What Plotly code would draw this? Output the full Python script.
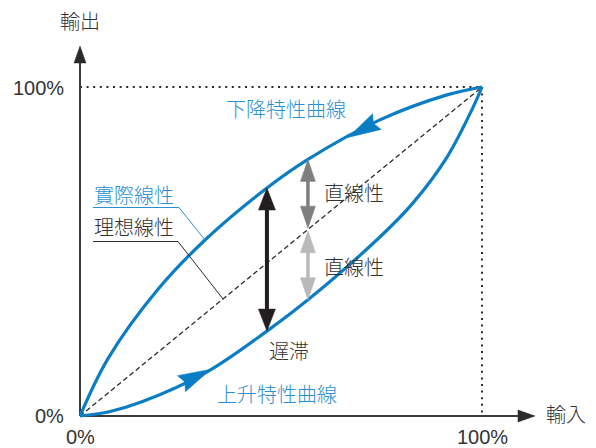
import numpy as np
import plotly.graph_objects as go

# ---------------- data (percent) ----------------
down_x = [0, 7.0, 19.4, 31.1, 46.5, 56.7, 74.6, 91.3, 100]
down_y = [0, 17.5, 38.5, 53.5, 69.3, 78.0, 90.0, 97.6, 100]
up_x = [0, 7.0, 15.4, 31.6, 46.5, 56.7, 74.6, 82.8, 91.3, 97.8, 100]
up_y = [0, 1.2, 4.3, 13.4, 25.8, 35.3, 54.4, 64.7, 78.7, 93.9, 100]
ideal_x = [0, 100]
ideal_y = [0, 100]
x_tick_labels = ["0%", "100%"]
y_tick_labels = ["0%", "100%"]
hyst_x = 46.5      # where hysteresis arrow is drawn
lin_x = 56.7       # where linearity arrows are drawn

# ---------------- pixel <-> data mapping ----------------
W, H = 596, 448
X0, X100, Y0, Y100 = 80, 482, 416, 87


def dx(px):
    return (px - X0) / (X100 - X0) * 100


def dy(py):
    return (Y0 - py) / (Y0 - Y100) * 100


def px(x):
    return X0 + x / 100 * (X100 - X0)


def py(y):
    return Y0 - y / 100 * (Y0 - Y100)


BLUE = "#0b7dc4"
BLUE_TXT = "#2b8fd3"
DARK = "#2b2b2b"
TXT = "#333333"
GRAY1 = "#7f7f7f"
GRAY2 = "#b9b9b9"
CJK = "Noto Sans CJK JP, Noto Sans CJK TC, sans-serif"
NUM = "Liberation Sans, Arial, sans-serif"

fig = go.Figure()


def line(xs, ys, color, width, dash="solid", shape="linear"):
    fig.add_trace(go.Scatter(x=xs, y=ys, mode="lines",
                             line=dict(color=color, width=width, dash=dash, shape=shape,
                                       smoothing=1.0 if shape == "spline" else None),
                             hoverinfo="skip", showlegend=False))


def head(tip_px, base_px, color, L, Wd, notch=3.0):
    t = np.array(tip_px, float)
    b = np.array(base_px, float)
    d = t - b
    d = d / np.linalg.norm(d)
    b = t - d * L
    n = np.array([-d[1], d[0]])
    pts = [t, b + n * Wd / 2, b + d * notch, b - n * Wd / 2, t]
    fig.add_trace(go.Scatter(x=[dx(p[0]) for p in pts], y=[dy(p[1]) for p in pts],
                             mode="lines", fill="toself", fillcolor=color,
                             line=dict(color=color, width=0.5),
                             hoverinfo="skip", showlegend=False))
    return b


def on(xs, ys, x):
    return (px(x), py(float(np.interp(x, xs, ys))))


# dotted 100% guides
line([0, 100], [100, 100], DARK, 2, "2px,4.6px")
line([100, 100], [100, 0], DARK, 2, "2px,4.6px")
# ideal dashed diagonal
line(ideal_x, ideal_y, DARK, 1.3, "5px,3px")

# axes
line([0, 0], [0, dy(60)], "#3a3a3a", 2)
head((X0, 46), (X0, 60), "#2a2a2a", 17, 12, 0)
line([0, dx(520)], [0, 0], "#3a3a3a", 2)
head((535, Y0), (520, Y0), "#2a2a2a", 17, 12, 0)

# curves
line(down_x, down_y, BLUE, 3.2, shape="spline")
line(up_x, up_y, BLUE, 3.2, shape="spline")

# direction arrows on curves
head(on(down_x, down_y, dx(348)), on(down_x, down_y, dx(378)), BLUE, 33, 18, 4)
head(on(up_x, up_y, dx(211)), on(up_x, up_y, dx(182)), BLUE, 33, 18, 4)

# leader lines
p_real = on(down_x, down_y, dx(205))
line([dx(93), dx(179), dx(p_real[0])], [dy(207.5), dy(207.5), dy(p_real[1])], BLUE_TXT, 1)
p_ideal = on(ideal_x, ideal_y, dx(223))
line([dx(93), dx(178), dx(p_ideal[0])], [dy(241.5), dy(241.5), dy(p_ideal[1])], DARK, 1)


def double_arrow(x, y_top, y_bot, color, shaft, L, Wd):
    top = (px(x), py(y_top))
    bot = (px(x), py(y_bot))
    b1 = head(top, (top[0], top[1] + 10), color, L, Wd, 0)
    b2 = head(bot, (bot[0], bot[1] - 10), color, L, Wd, 0)
    line([x, x], [dy(b1[1] - 1), dy(b2[1] + 1)], color, shaft)


yu = float(np.interp(hyst_x, down_x, down_y))
yl = float(np.interp(hyst_x, up_x, up_y))
double_arrow(hyst_x, yu, yl, "#231f20", 4, 22, 17)

yu2 = float(np.interp(lin_x, down_x, down_y))
yi2 = float(np.interp(lin_x, ideal_x, ideal_y))
yl2 = float(np.interp(lin_x, up_x, up_y))
double_arrow(lin_x, yu2, yi2 + 0.4, GRAY1, 3.5, 22, 15)
double_arrow(lin_x, yi2 - 0.4, yl2, GRAY2, 3.5, 22, 15)


# texts
def text(s, x_px, y_px, color=TXT, size=20, font=CJK, anchor="center", weight=300):
    fig.add_annotation(x=dx(x_px), y=dy(y_px), text=s, showarrow=False,
                       xanchor=anchor, yanchor="middle",
                       font=dict(family=font, size=size, color=color, weight=weight))


text("輸出", 80, 20)
text("輸入", 566, 413)
text(y_tick_labels[1], 66, 88, font=NUM, anchor="right", weight=400)
text(y_tick_labels[0], 66, 416, font=NUM, anchor="right", weight=400)
text(x_tick_labels[0], 80, 437, font=NUM, weight=400)
text(x_tick_labels[1], px(100), 437, font=NUM, weight=400)
text("下降特性曲線", 286, 108, color=BLUE_TXT)
text("上升特性曲線", 277, 393, color=BLUE_TXT)
text("直線性", 354, 192)
text("直線性", 354, 266)
text("遅滞", 289, 350)
text("實際線性", 92, 194, color=BLUE_TXT, anchor="left")
text("理想線性", 92, 226, anchor="left")

fig.update_layout(
    width=W, height=H, autosize=False,
    margin=dict(l=0, r=0, t=0, b=0),
    paper_bgcolor="white", plot_bgcolor="white",
    xaxis=dict(range=[dx(0), dx(W)], visible=False, fixedrange=True),
    yaxis=dict(range=[dy(H), dy(0)], visible=False, fixedrange=True),
    showlegend=False,
)
fig.write_html("out.html", config={"displayModeBar": False},
               post_script="document.body.style.margin='0';document.body.style.overflow='hidden';")
